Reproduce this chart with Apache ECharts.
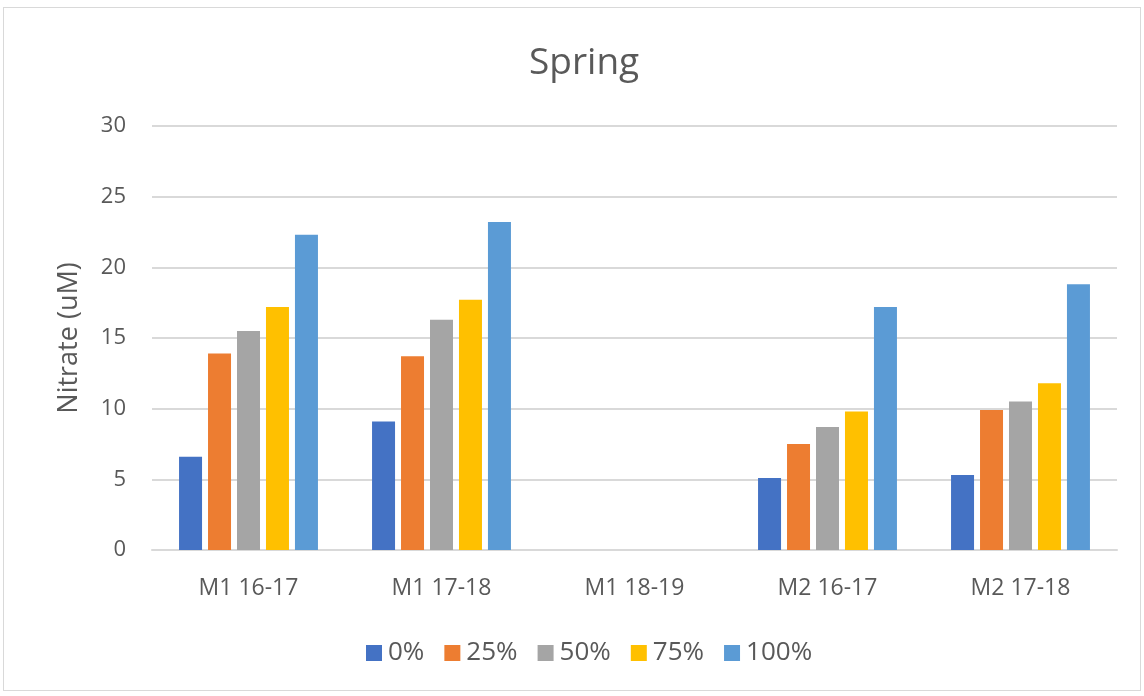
<!DOCTYPE html>
<html>
<head>
<meta charset="utf-8">
<script src="https://cdn.jsdelivr.net/npm/echarts@6/dist/echarts.min.js"></script>
<style>
  html, body { margin: 0; padding: 0; background: #fff; }
  #frame { position: absolute; left: 3px; top: 7px; width: 1138px; height: 684px; border: 1px solid #d9d9d9; box-sizing: border-box; }
  #main { position: absolute; left: 0; top: 0; width: 1144px; height: 696px; }
</style>
</head>
<body>
<div id="frame"></div>
<div id="main"></div>
<script>
// sites / years
var categories = ['M1 16-17', 'M1 17-18', 'M1 18-19', 'M2 16-17', 'M2 17-18'];
var seriesNames = ['0%', '25%', '50%', '75%', '100%'];
var colors = ['#4472c4', '#ed7d31', '#a5a5a5', '#ffc000', '#5b9bd5'];

// nitrate values (uM), M1 18-19 has no data
var v0 = [6.6, 9.1, null, 5.1, 5.3];
var v25 = [13.9, 13.7, null, 7.5, 9.9];
var v50 = [15.5, 16.3, null, 8.7, 10.5];
var v75 = [17.2, 17.7, null, 9.8, 11.8];
var v100 = [22.3, 23.2, null, 17.2, 18.8];
var allValues = [v0, v25, v50, v75, v100];

var font = '"Open Sans", sans-serif';
var chart = echarts.init(document.getElementById('main'));

var series = seriesNames.map(function (name, i) {
  return {
    name: name,
    type: 'bar',
    data: allValues[i],
    barWidth: 23,
    barGap: '26%',
    itemStyle: { color: colors[i] }
  };
});

chart.setOption({
  animation: false,
  title: {
    text: 'Spring',
    left: 524,
    top: 40,
    textStyle: { fontFamily: font, fontSize: 37, fontWeight: 'normal', color: '#595959' }
  },
  legend: {
    data: seriesNames,
    bottom: 25,
    left: 361,
    itemWidth: 16,
    itemHeight: 16,
    itemGap: 20,
    icon: 'rect',
    textStyle: { fontFamily: font, fontSize: 26, color: '#595959', padding: [0, 0, 0, 1] }
  },
  grid: { left: 152, right: 27, top: 126, bottom: 146 },
  xAxis: {
    type: 'category',
    data: categories,
    axisTick: { show: false },
    axisLine: { lineStyle: { color: '#d9d9d9', width: 2 } },
    axisLabel: { fontFamily: font, fontSize: 23, color: '#595959', margin: 27 }
  },
  yAxis: {
    type: 'value',
    min: 0,
    max: 30,
    interval: 5,
    name: 'Nitrate (uM)',
    nameLocation: 'middle',
    nameGap: 69,
    nameTextStyle: { fontFamily: font, fontSize: 27, color: '#595959' },
    axisLine: { show: false },
    axisTick: { show: false },
    axisLabel: { fontFamily: font, fontSize: 22, color: '#595959', margin: 26 },
    splitLine: { lineStyle: { color: '#d9d9d9', width: 2 } }
  },
  series: series
});
</script>
</body>
</html>
